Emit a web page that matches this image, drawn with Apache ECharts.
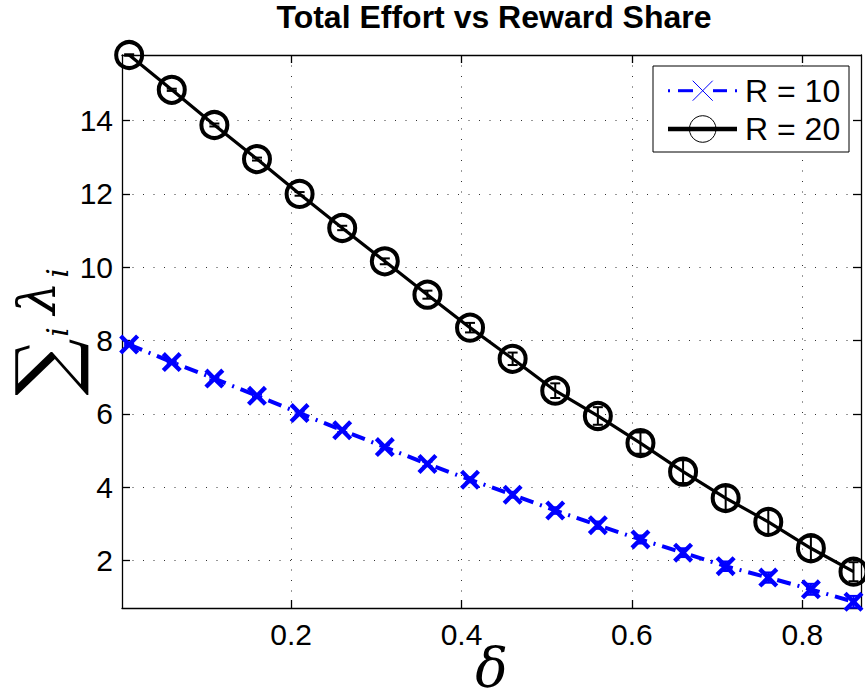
<!DOCTYPE html>
<html>
<head>
<meta charset="utf-8">
<script src="https://cdn.jsdelivr.net/npm/echarts@6/dist/echarts.min.js"></script>
<style>
  html, body { margin: 0; padding: 0; background: #fff; }
  #chart { width: 865px; height: 698px; }
</style>
</head>
<body>
<div id="chart"></div>
<script>
// Reward share δ (x) and total effort Σλ_i (y) for two reward levels
const delta = [0.01, 0.06, 0.11, 0.16, 0.21, 0.26, 0.31, 0.36, 0.41, 0.46, 0.51, 0.56, 0.61, 0.66, 0.71, 0.76, 0.81, 0.86];
const effortR10 = [7.89, 7.41, 6.96, 6.49, 6.02, 5.55, 5.09, 4.63, 4.20, 3.79, 3.36, 2.96, 2.57, 2.21, 1.84, 1.53, 1.21, 0.87];
const effortR20 = [15.79, 14.84, 13.88, 12.95, 12.00, 11.07, 10.16, 9.25, 8.35, 7.50, 6.63, 5.94, 5.20, 4.42, 3.70, 3.05, 2.33, 1.69];
// half-widths of the error bars
const errR10 = [0.02, 0.02, 0.03, 0.03, 0.04, 0.05, 0.05, 0.06, 0.07, 0.08, 0.09, 0.10, 0.11, 0.12, 0.13, 0.14, 0.15, 0.16];
const errR20 = [0.02, 0.03, 0.04, 0.04, 0.05, 0.06, 0.08, 0.11, 0.13, 0.17, 0.20, 0.24, 0.29, 0.31, 0.32, 0.33, 0.32, 0.26];

const xTicks = [0.2, 0.4, 0.6, 0.8];
const yTicks = [2, 4, 6, 8, 10, 12, 14];
const seriesNames = ['R = 10', 'R = 20'];
const titleText = 'Total Effort vs Reward Share';

const xRange = [0.0016, 0.8688];
const yRange = [0.70, 15.79];

const BLUE = '#0000ff';
const BLACK = '#000000';
const SANS = '"Liberation Sans", Arial, Helvetica, sans-serif';
const SERIF = '"DejaVu Serif", serif';

// thick "x" marker as a filled outline
const crossPath = 'path://M0,15.5 L15.5,0 L50,34.5 L84.5,0 L100,15.5 L65.5,50 L100,84.5 L84.5,100 L50,65.5 L15.5,100 L0,84.5 L34.5,50 Z';

function pairs(ys) {
  return delta.map((x, i) => [x, ys[i]]);
}

function errorBars(name, ys, errs, color, z) {
  return {
    type: 'custom',
    name: name + ' error',
    silent: true,
    clip: false,
    z: z,
    data: delta.map((x, i) => [x, ys[i] - errs[i], ys[i] + errs[i]]),
    encode: { x: 0, y: [1, 2] },
    renderItem: function (params, api) {
      const x = api.value(0);
      const lo = api.coord([x, api.value(1)]);
      const hi = api.coord([x, api.value(2)]);
      const cap = 5;
      const st = { stroke: color, lineWidth: 2 };
      return {
        type: 'group',
        children: [
          { type: 'line', shape: { x1: lo[0], y1: lo[1], x2: hi[0], y2: hi[1] }, style: st },
          { type: 'line', shape: { x1: lo[0] - cap, y1: lo[1], x2: lo[0] + cap, y2: lo[1] }, style: st },
          { type: 'line', shape: { x1: hi[0] - cap, y1: hi[1], x2: hi[0] + cap, y2: hi[1] }, style: st }
        ]
      };
    }
  };
}

const axisLineStyle = { color: BLACK, width: 1.3 };
const gridDots = { show: true, lineStyle: { color: '#333', width: 1, type: [1, 9.5] } };

function xAxisDef(position, primary) {
  return {
    type: 'value', position: position, min: xRange[0], max: xRange[1],
    axisLine: { show: true, onZero: false, lineStyle: axisLineStyle },
    axisTick: { show: true, inside: true, length: 8, customValues: xTicks, lineStyle: axisLineStyle },
    axisLabel: primary
      ? { show: true, customValues: xTicks, fontSize: 30, fontFamily: SANS, color: BLACK, margin: 11 }
      : { show: false },
    splitLine: primary ? gridDots : { show: false }
  };
}

function yAxisDef(position, primary) {
  return {
    type: 'value', position: position, min: yRange[0], max: yRange[1],
    axisLine: { show: true, onZero: false, lineStyle: axisLineStyle },
    axisTick: { show: true, inside: true, length: 8, customValues: yTicks, lineStyle: axisLineStyle },
    axisLabel: primary
      ? { show: true, customValues: yTicks, fontSize: 30, fontFamily: SANS, color: BLACK, margin: 9 }
      : { show: false },
    splitLine: primary ? gridDots : { show: false }
  };
}

// one rotated glyph of the y-axis name (reads bottom to top)
function yNamePart(text, x, y, font, lineHeight) {
  return {
    type: 'text', x: x, y: y, rotation: Math.PI / 2,
    style: { text: text, align: 'center', verticalAlign: 'middle', font: font, lineHeight: lineHeight, fill: BLACK }
  };
}

const chart = echarts.init(document.getElementById('chart'), null, { renderer: 'svg' });

const lx0 = 653, ly0 = 66, lw = 196, lh = 86;
const row1 = 90.7, row2 = 129;

chart.setOption({
  animation: false,
  backgroundColor: '#fff',
  grid: { left: 122, top: 55, width: 739, height: 553, outerBoundsMode: 'none', containLabel: false },
  xAxis: [xAxisDef('bottom', true), xAxisDef('top', false)],
  yAxis: [yAxisDef('left', true), yAxisDef('right', false)],
  series: [
    errorBars(seriesNames[0], effortR10, errR10, BLUE, 2),
    {
      type: 'line', name: seriesNames[0], data: pairs(effortR10), clip: false, z: 3,
      symbol: crossPath, symbolSize: 20,
      itemStyle: { color: BLUE },
      lineStyle: { color: BLUE, width: 4, type: [14, 7, 2, 7] }
    },
    errorBars(seriesNames[1], effortR20, errR20, BLACK, 4),
    {
      type: 'line', name: seriesNames[1], data: pairs(effortR20), clip: false, z: 5,
      symbol: 'circle', symbolSize: 26,
      itemStyle: { color: 'rgba(0,0,0,0)', borderColor: BLACK, borderWidth: 4 },
      lineStyle: { color: BLACK, width: 3.2 }
    }
  ],
  graphic: [
    { type: 'text', x: 494, y: 17, style: { text: titleText, align: 'center', verticalAlign: 'middle', font: 'bold 32px ' + SANS, fill: BLACK } },
    { type: 'text', x: 491.5, y: 667, style: { text: 'δ', align: 'center', verticalAlign: 'middle', font: 'italic 54px ' + SERIF, fill: BLACK } },
    // y-axis name: Σ_i λ_i
    yNamePart('∑', 45, 367, '80px ' + SERIF, 56),
    yNamePart('i', 57, 332, 'italic 30px ' + SERIF, 30),
    yNamePart('λ', 37, 298, 'italic 52px ' + SERIF, 52),
    yNamePart('i', 57, 273, 'italic 30px ' + SERIF, 30),
    // legend box
    { type: 'rect', shape: { x: lx0, y: ly0, width: lw, height: lh }, style: { fill: '#fff', stroke: BLACK, lineWidth: 1 }, z: 10 },
    { type: 'line', shape: { x1: 668, y1: row1, x2: 670, y2: row1 }, style: { stroke: BLUE, lineWidth: 3 }, z: 11 },
    { type: 'line', shape: { x1: 678, y1: row1, x2: 693, y2: row1 }, style: { stroke: BLUE, lineWidth: 3 }, z: 11 },
    { type: 'line', shape: { x1: 713, y1: row1, x2: 727, y2: row1 }, style: { stroke: BLUE, lineWidth: 3 }, z: 11 },
    { type: 'line', shape: { x1: 735, y1: row1, x2: 737, y2: row1 }, style: { stroke: BLUE, lineWidth: 3 }, z: 11 },
    { type: 'line', shape: { x1: 692.7, y1: row1 - 10, x2: 712.7, y2: row1 + 10 }, style: { stroke: BLUE, lineWidth: 1 }, z: 11 },
    { type: 'line', shape: { x1: 692.7, y1: row1 + 10, x2: 712.7, y2: row1 - 10 }, style: { stroke: BLUE, lineWidth: 1 }, z: 11 },
    { type: 'text', x: 745, y: row1, style: { text: seriesNames[0], verticalAlign: 'middle', font: '32px ' + SANS, fill: BLACK }, z: 11 },
    { type: 'line', shape: { x1: 668, y1: row2, x2: 737, y2: row2 }, style: { stroke: BLACK, lineWidth: 4.5 }, z: 11 },
    { type: 'circle', shape: { cx: 702.7, cy: row2, r: 13.3 }, style: { fill: 'none', stroke: BLACK, lineWidth: 1 }, z: 11 },
    { type: 'text', x: 745, y: row2, style: { text: seriesNames[1], verticalAlign: 'middle', font: '32px ' + SANS, fill: BLACK }, z: 11 }
  ]
});
</script>
</body>
</html>
